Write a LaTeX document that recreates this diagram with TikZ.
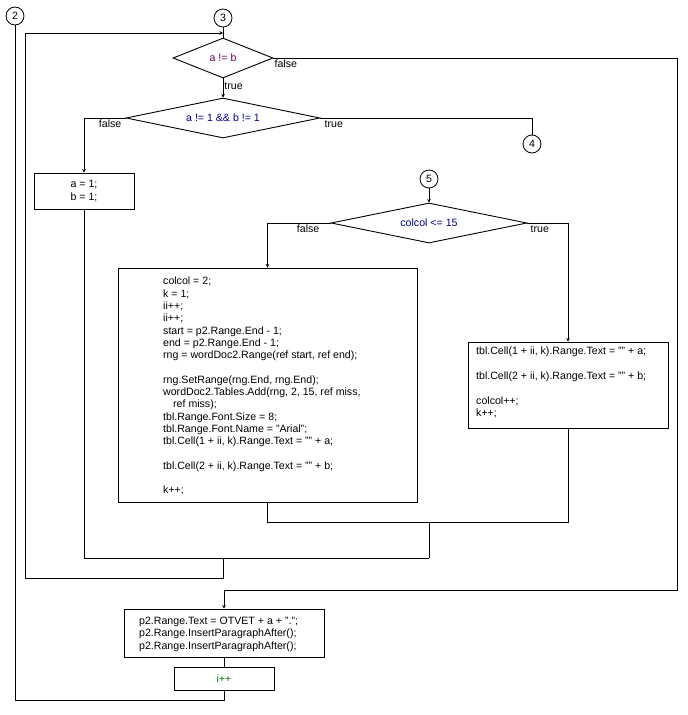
\documentclass[tikz,border=0pt]{standalone}
\usepackage{fontspec}
\setmainfont{Liberation Sans}[Ligatures=ResetAll]
\usetikzlibrary{shapes.geometric,arrows.meta}
\newcommand{\dq}{\symbol{34}}
\begin{document}
\begin{tikzpicture}[x=1pt,y=-1pt,
  every node/.style={font=\fontsize{10.6}{12.3}\selectfont},
  conn/.style={draw,circle,line width=0.8pt,minimum size=18pt,inner sep=0pt},
  cond/.style={draw,diamond,aspect=5,inner sep=0pt,line width=0.9pt,minimum height=40pt},
  stmt/.style={draw,rectangle,line width=0.9pt,inner sep=0pt},
  flow/.style={line width=0.9pt},
  arr/.style={flow,-{Stealth[length=3.5pt,width=3.5pt]}},
  lbl/.style={inner sep=1pt,font=\fontsize{10.6}{12.3}\selectfont}
]
\fill[white] (0,0) rectangle (688,715);
\useasboundingbox (0,0) rectangle (688,715);

% connectors
\node[conn] (c2) at (15,16) {2};
\node[conn] (c3) at (223,18) {3};
\node[conn] (c4) at (532,144) {4};
\node[conn] (c5) at (429,179) {5};

% conditions
\node[cond,minimum width=100pt,text=violet!80!black] (d1) at (223,58) {a != b};
\node[cond,minimum width=194pt,text=blue!50!black] (d2) at (223,118) {a != 1 \&\& b != 1};
\node[cond,minimum width=196pt,text=blue!50!black] (d3) at (429,223) {colcol <= 15};

% statements
\node[stmt,minimum width=100pt,minimum height=36pt,align=center] (ba) at (84,191) {a = 1;\\b = 1;};
\node[stmt,minimum width=299pt,minimum height=234pt] (bbig) at (267.5,385) {};
\node[anchor=north west,align=left,inner sep=0pt] (tbig) at (163,277) {%
colcol = 2;\\
k = 1;\\
ii++;\\
ii++;\\
start = p2.Range.End - 1;\\
end = p2.Range.End - 1;\\
rng = wordDoc2.Range(ref start, ref end);\\[12.3pt]
rng.SetRange(rng.End, rng.End);\\
wordDoc2.Tables.Add(rng, 2, 15, ref miss,\\
\hspace*{10pt}ref miss);\\
tbl.Range.Font.Size = 8;\\
tbl.Range.Font.Name = \dq Arial\dq;\\
tbl.Cell(1 + ii, k).Range.Text = \dq\dq{} + a;\\[12.3pt]
tbl.Cell(2 + ii, k).Range.Text = \dq\dq{} + b;\\[12.3pt]
k++;};
\node[stmt,minimum width=200pt,minimum height=86pt] (bright) at (568,385) {};
\node[anchor=north west,align=left,inner sep=0pt] (tright) at (476,347) {%
tbl.Cell(1 + ii, k).Range.Text = \dq\dq{} + a;\\[12.3pt]
tbl.Cell(2 + ii, k).Range.Text = \dq\dq{} + b;\\[12.3pt]
colcol++;\\
k++;};
\node[stmt,minimum width=200pt,minimum height=48pt] (bp2) at (224,633) {};
\node[anchor=north west,align=left,inner sep=0pt] (tp2) at (139,617) {%
p2.Range.Text = OTVET + a + \dq.\dq;\\
p2.Range.InsertParagraphAfter();\\
p2.Range.InsertParagraphAfter();};
\node[stmt,minimum width=100pt,minimum height=23pt,text=green!50!black] (binc) at (224,678.5) {i++};

% junction coordinates
\coordinate (j3) at (223,33);
\coordinate (jm1) at (429,522.5);
\coordinate (jm2) at (429,558);
\coordinate (jm3) at (223,558);

% flows
\draw[flow] (c3.south) -- (j3);
\draw[flow] (j3) -- (d1.north);
\draw[flow] (d1.east) -- (677,58) -- (677,590) -- (224,590);
\draw[arr] (224,590) -- (bp2.north);
\node[lbl,anchor=north west] at ([yshift=-1pt]d1.east) {false};
\draw[arr] (d1.south) -- node[lbl,right,pos=0.4]{true} (d2.north);
\draw[arr] (d2.west) -| (ba.north);
\node[lbl,anchor=north east] at ([xshift=-3pt,yshift=-1pt]d2.west) {false};
\draw[flow] (d2.east) -| (c4.north);
\node[lbl,anchor=north west] at ([xshift=3pt,yshift=-1pt]d2.east) {true};
\draw[arr] (c5.south) -- (d3.north);
\draw[arr] (d3.west) -| (bbig.north);
\node[lbl,anchor=north east] at ([xshift=-10pt,yshift=-1pt]d3.west) {false};
\draw[arr] (d3.east) -| (bright.north);
\node[lbl,anchor=north west] at ([xshift=2pt,yshift=-1pt]d3.east) {true};
\draw[flow] (bbig.south) |- (jm1);
\draw[flow] (bright.south) |- (jm1);
\draw[flow] (jm1) -- (jm2);
\draw[flow] (ba.south) |- (jm2);
\draw[flow] (jm3) -- (223,578.5) -- (25,578.5) -- (25,33);
\draw[arr] (25,33) -- (j3);
\draw[flow] (bp2.south) -- (binc.north);
\draw[flow] (binc.south) -- (224,700) -- (15,700) -- (c2.south);
\end{tikzpicture}
\end{document}
